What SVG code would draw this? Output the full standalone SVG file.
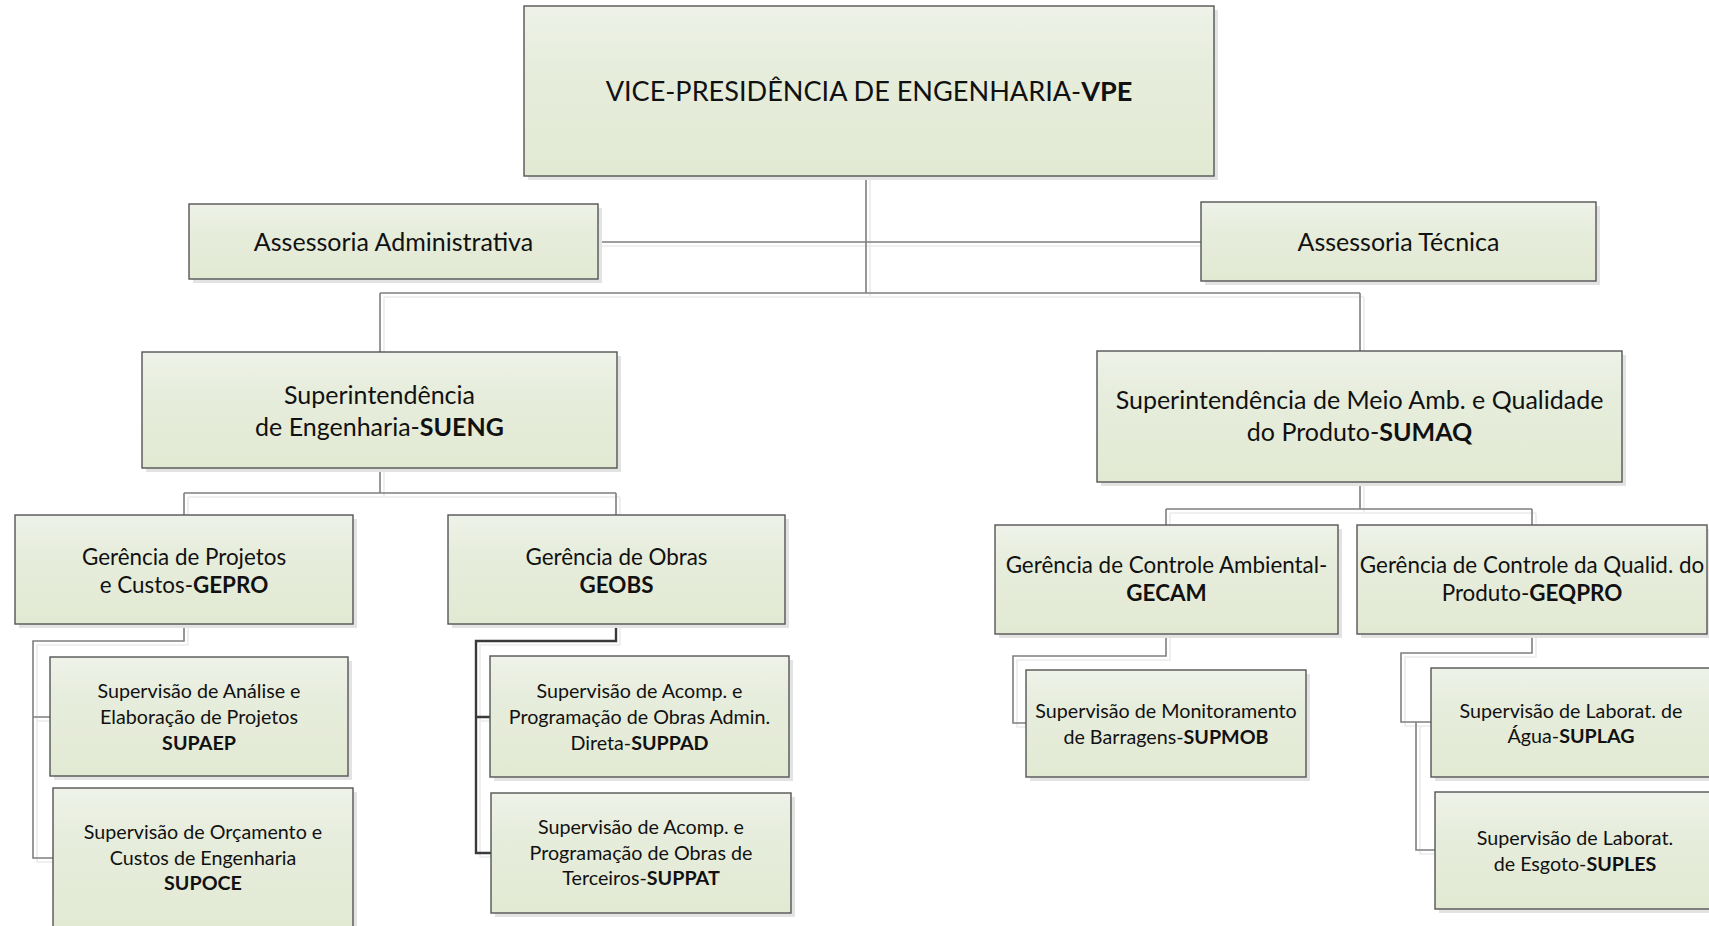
<svg xmlns="http://www.w3.org/2000/svg" width="1709" height="926" viewBox="0 0 1709 926">
<defs>
<linearGradient id="g" x1="0" y1="0" x2="0" y2="1">
<stop offset="0" stop-color="#eef2e9"/>
<stop offset="0.35" stop-color="#e7eddc"/>
<stop offset="1" stop-color="#e2e9d3"/>
</linearGradient>
</defs>
<style>
.box{fill:url(#g);stroke:#555;stroke-width:1.4}
.sh{fill:#e3e3e3}
.t{font-family:Lato,"Liberation Sans",sans-serif;fill:#111;text-anchor:middle}
.b{font-weight:bold}
.c{fill:none;stroke:#7f7f7f;stroke-width:1.6}
.cd{fill:none;stroke:#3a3a3a;stroke-width:2.4}
.cs{fill:none;stroke:#ececec;stroke-width:1.6}
.l{font-size:25px}
.m{font-size:22.4px}
.s{font-size:19.7px}
</style>
<rect width="1709" height="926" fill="#fff"/>
<g id="connectors-shadow" transform="translate(4,4)">
<path class="cs" d="M866 176V293M598 242H1201M380 293H1360M380 293V352M1360 293V351M380 468V493M184 493H616M184 493V515M616 493V515M1360 482V509M1166 509H1532M1166 509V525M1532 509V525M184 624V641H33V717H50M33 717V858H53M616 624V641H476V717H490M476 717V853H491M1166 634V656H1013V723H1026M1532 634V653H1401V722H1431M1416 722V850H1435"/>
</g>
<g id="connectors">
<path class="c" d="M866 176V293M598 242H1201M380 293H1360M380 293V352M1360 293V351"/>
<path class="c" d="M380 468V493M184 493H616M184 493V515M616 493V515"/>
<path class="c" d="M1360 482V509M1166 509H1532M1166 509V525M1532 509V525"/>
<path class="c" d="M184 624V641H33V717H50M33 717V858H53"/>
<path class="cd" d="M616 624V641H476V717H490M476 717V853H491"/>
<path class="c" d="M1166 634V656H1013V723H1026"/>
<path class="c" d="M1532 634V653H1401V722H1431M1416 722V850H1435"/>
</g>
<g id="vpe">
<rect class="sh" x="528" y="10" width="690" height="170"/>
<rect class="box" x="524" y="6" width="690" height="170"/>
<text class="t" x="869" y="101" font-size="27.1">VICE-PRESIDÊNCIA DE ENGENHARIA-<tspan class="b">VPE</tspan></text>
</g>
<g id="assessoria-administrativa">
<rect class="sh" x="193" y="208" width="409" height="75"/>
<rect class="box" x="189" y="204" width="409" height="75"/>
<text class="t l" x="393.5" y="251">Assessoria Administrativa</text>
</g>
<g id="assessoria-tecnica">
<rect class="sh" x="1205" y="206" width="395" height="79"/>
<rect class="box" x="1201" y="202" width="395" height="79"/>
<text class="t l" x="1398.5" y="251">Assessoria Técnica</text>
</g>
<g id="sueng">
<rect class="sh" x="146" y="356" width="475" height="116"/>
<rect class="box" x="142" y="352" width="475" height="116"/>
<text class="t l" x="379.5" y="404">Superintendência</text>
<text class="t l" x="379.5" y="436">de Engenharia-<tspan class="b">SUENG</tspan></text>
</g>
<g id="sumaq">
<rect class="sh" x="1101" y="355" width="525" height="131"/>
<rect class="box" x="1097" y="351" width="525" height="131"/>
<text class="t l" x="1359.5" y="409">Superintendência de Meio Amb. e Qualidade</text>
<text class="t l" x="1359.5" y="441">do Produto-<tspan class="b">SUMAQ</tspan></text>
</g>
<g id="gepro">
<rect class="sh" x="19" y="519" width="338" height="109"/>
<rect class="box" x="15" y="515" width="338" height="109"/>
<text class="t m" x="184" y="565">Gerência de Projetos</text>
<text class="t m" x="184" y="593">e Custos-<tspan class="b">GEPRO</tspan></text>
</g>
<g id="geobs">
<rect class="sh" x="452" y="519" width="337" height="109"/>
<rect class="box" x="448" y="515" width="337" height="109"/>
<text class="t m" x="616.5" y="565">Gerência de Obras</text>
<text class="t m b" x="616.5" y="593">GEOBS</text>
</g>
<g id="gecam">
<rect class="sh" x="999" y="529" width="343" height="109"/>
<rect class="box" x="995" y="525" width="343" height="109"/>
<text class="t m" x="1166.5" y="573">Gerência de Controle Ambiental-</text>
<text class="t m b" x="1166.5" y="601">GECAM</text>
</g>
<g id="geqpro">
<rect class="sh" x="1361" y="529" width="350" height="109"/>
<rect class="box" x="1357" y="525" width="350" height="109"/>
<text class="t m" x="1532" y="573">Gerência de Controle da Qualid. do</text>
<text class="t m" x="1532" y="601">Produto-<tspan class="b">GEQPRO</tspan></text>
</g>
<g id="supaep">
<rect class="sh" x="54" y="661" width="298" height="119"/>
<rect class="box" x="50" y="657" width="298" height="119"/>
<text class="t s" x="199" y="698">Supervisão de Análise e</text>
<text class="t s" x="199" y="724">Elaboração de Projetos</text>
<text class="t s b" x="199" y="750">SUPAEP</text>
</g>
<g id="supoce">
<rect class="sh" x="57" y="792" width="300" height="145"/>
<rect class="box" x="53" y="788" width="300" height="145"/>
<text class="t s" x="203" y="839">Supervisão de Orçamento e</text>
<text class="t s" x="203" y="865">Custos de Engenharia</text>
<text class="t s b" x="203" y="890">SUPOCE</text>
</g>
<g id="suppad">
<rect class="sh" x="494" y="660" width="299" height="121"/>
<rect class="box" x="490" y="656" width="299" height="121"/>
<text class="t s" x="639.5" y="698">Supervisão de Acomp. e</text>
<text class="t s" x="639.5" y="724">Programação de Obras Admin.</text>
<text class="t s" x="639.5" y="750">Direta-<tspan class="b">SUPPAD</tspan></text>
</g>
<g id="suppat">
<rect class="sh" x="495" y="797" width="300" height="120"/>
<rect class="box" x="491" y="793" width="300" height="120"/>
<text class="t s" x="641" y="834">Supervisão de Acomp. e</text>
<text class="t s" x="641" y="860">Programação de Obras de</text>
<text class="t s" x="641" y="885">Terceiros-<tspan class="b">SUPPAT</tspan></text>
</g>
<g id="supmob">
<rect class="sh" x="1030" y="674" width="280" height="107"/>
<rect class="box" x="1026" y="670" width="280" height="107"/>
<text class="t s" x="1166" y="718">Supervisão de Monitoramento</text>
<text class="t s" x="1166" y="744">de Barragens-<tspan class="b">SUPMOB</tspan></text>
</g>
<g id="suplag">
<rect class="sh" x="1435" y="672" width="280" height="109"/>
<rect class="box" x="1431" y="668" width="280" height="109"/>
<text class="t s" x="1571" y="718">Supervisão de Laborat. de</text>
<text class="t s" x="1571" y="743">Água-<tspan class="b">SUPLAG</tspan></text>
</g>
<g id="suples">
<rect class="sh" x="1439" y="796" width="280" height="117"/>
<rect class="box" x="1435" y="792" width="280" height="117"/>
<text class="t s" x="1575" y="845">Supervisão de Laborat.</text>
<text class="t s" x="1575" y="871">de Esgoto-<tspan class="b">SUPLES</tspan></text>
</g>
</svg>
